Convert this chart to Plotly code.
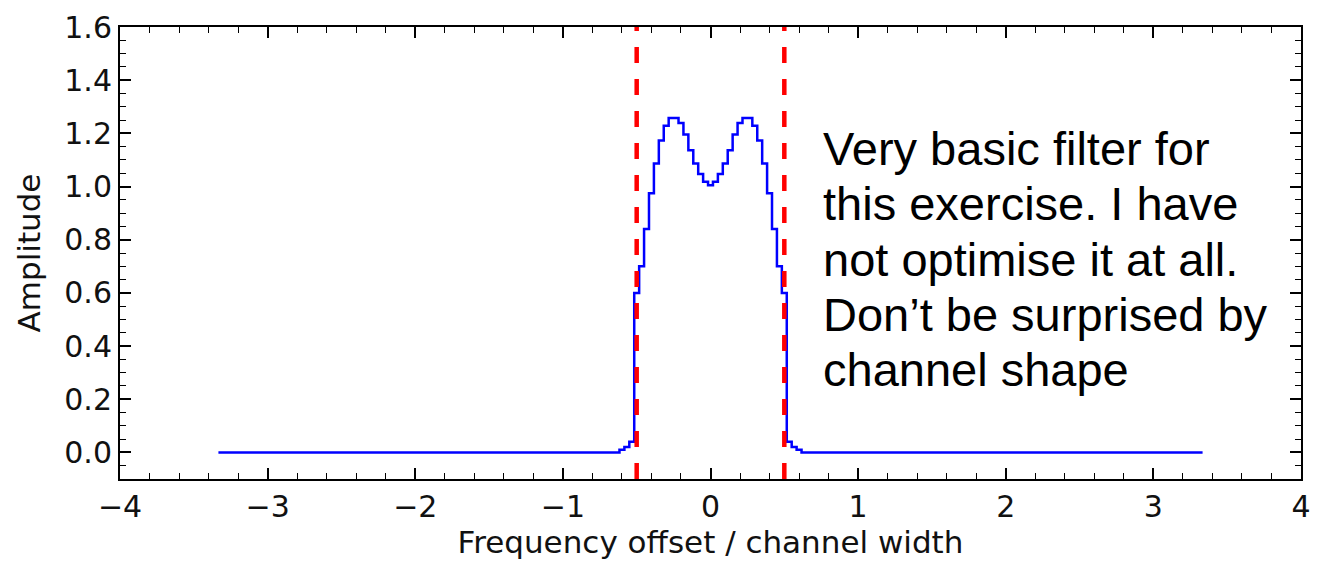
import numpy as np
import plotly.graph_objects as go

# Frequency grid in units of channel width: 30 samples per channel
freq_offset = np.arange(-100, 101) / 30

# Filter amplitude for samples -19 ... +19 (the rest of the band is zero)
passband = [
    0.0, 0.01, 0.02, 0.04,
    0.60, 0.70, 0.84, 0.975, 1.087, 1.173, 1.229, 1.258, 1.258, 1.239,
    1.196, 1.136, 1.087, 1.047, 1.018,
    1.005,
    1.018, 1.047, 1.087, 1.136, 1.196,
    1.239, 1.258, 1.258, 1.229, 1.173, 1.087, 0.975, 0.84, 0.70, 0.60,
    0.04, 0.02, 0.01, 0.0,
]
stopband_left = [0.0] * 81
stopband_right = [0.0] * 81
amplitude = stopband_left + passband + stopband_right

# Nominal channel edges
channel_edges = [-0.5, 0.5]

note_lines = [
    "Very basic filter for",
    "this exercise. I have",
    "not optimise it at all.",
    "Don’t be surprised by",
    "channel shape",
]

fig = go.Figure()
fig.add_trace(go.Scatter(
    x=freq_offset, y=amplitude, mode="lines",
    line=dict(color="#0000ff", width=2.5, shape="hvh"),
    hoverinfo="skip",
))

for edge in channel_edges:
    fig.add_shape(
        type="line", xref="x", yref="paper",
        x0=edge, x1=edge, y0=0, y1=1,
        line=dict(color="#ff0000", width=4.5, dash="16px,16px"),
        layer="above",
    )

for i, line in enumerate(note_lines):
    fig.add_annotation(
        x=0.746, y=1.142 - i * 0.2076, xref="x", yref="y",
        text=line, showarrow=False, xanchor="left", yanchor="middle",
        font=dict(family="Liberation Sans, Arial", size=47, color="black"),
    )

axis_common = dict(
    showline=True, linecolor="black", linewidth=2, mirror="allticks",
    ticks="inside", ticklen=11, tickwidth=1.5, tickcolor="black",
    showgrid=False, zeroline=False,
    tickfont=dict(family="DejaVu Sans", size=30, color="#111111"),
)

fig.update_xaxes(
    range=[-4, 4], tick0=0, dtick=1,
    minor=dict(dtick=0.2, ticks="inside", ticklen=6, tickwidth=1.2, tickcolor="black"),
    title=dict(text="Frequency offset / channel width",
               font=dict(family="DejaVu Sans", size=31, color="#111111"), standoff=8),
    **axis_common,
)
fig.update_yaxes(
    range=[-0.1, 1.6], tick0=0, dtick=0.2, tickformat=".1f",
    minor=dict(dtick=0.05, ticks="inside", ticklen=6, tickwidth=1.2, tickcolor="black"),
    title=dict(text="Amplitude",
               font=dict(family="DejaVu Sans", size=31, color="#111111"), standoff=14),
    **axis_common,
)

fig.update_layout(
    width=1320, height=566,
    margin=dict(l=120, r=9, t=22, b=87),
    plot_bgcolor="white", paper_bgcolor="white",
    showlegend=False,
)

fig.write_html("out.html")
